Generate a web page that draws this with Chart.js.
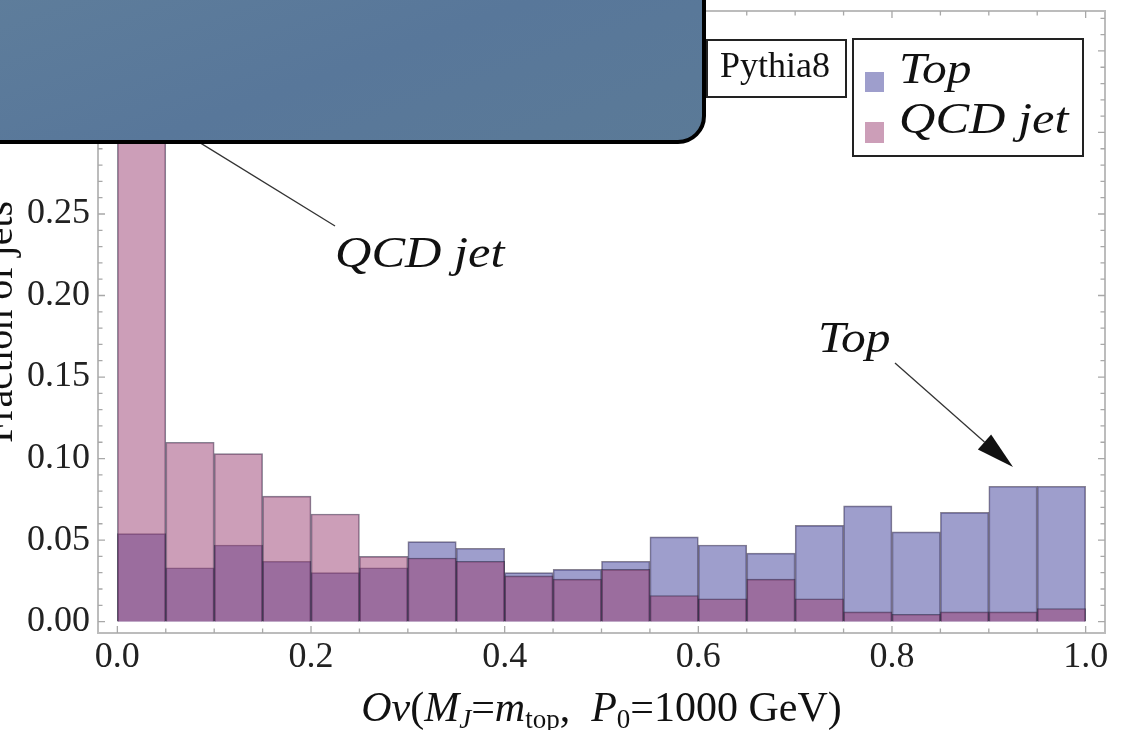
<!DOCTYPE html>
<html>
<head>
<meta charset="utf-8">
<script src="https://cdn.jsdelivr.net/npm/chart.js@4.4.0/dist/chart.umd.min.js"></script>
<style>
  html, body { margin: 0; padding: 0; background: #fff; overflow: hidden; }
  #wrap { position: relative; width: 1121px; height: 730px; }
  #cover {
    position: absolute; left: -10px; top: -10px; width: 716px; height: 154px;
    box-sizing: border-box; border: 4px solid #000; border-radius: 0 0 28px 0;
    background: linear-gradient(160deg, #5e7d9b 0%, #58779a 50%, #5b7a97 100%);
  }
</style>
</head>
<body>
<div id="wrap">
  <canvas id="myChart" width="1121" height="730"></canvas>
  <div id="cover"></div>
</div>
<script>
// histogram bins (left edges), width 0.05
const binStart = [0.00, 0.05, 0.10, 0.15, 0.20, 0.25, 0.30, 0.35, 0.40, 0.45,
                  0.50, 0.55, 0.60, 0.65, 0.70, 0.75, 0.80, 0.85, 0.90, 0.95];
const binWidth = 0.05;

// fraction of jets per bin
const topFrac = [0.054, 0.033, 0.047, 0.037, 0.030, 0.033, 0.049, 0.045, 0.030, 0.032,
                 0.037, 0.052, 0.047, 0.042, 0.059, 0.071, 0.055, 0.067, 0.083, 0.083];
const qcdFrac = [0.335, 0.110, 0.103, 0.077, 0.066, 0.040, 0.039, 0.037, 0.028, 0.026,
                 0.032, 0.016, 0.014, 0.026, 0.014, 0.006, 0.0045, 0.006, 0.006, 0.008];

const xTickVals = [0.0, 0.2, 0.4, 0.6, 0.8, 1.0];
const yTickVals = [0.00, 0.05, 0.10, 0.15, 0.20, 0.25, 0.30, 0.35];

const seriesNames = ['Top', 'QCD jet'];
const serif = "'Liberation Serif', 'DejaVu Serif', serif";

Chart.defaults.font.family = serif;
Chart.defaults.color = '#222';

// frame with inward ticks, like the original plot
const framePlugin = {
  id: 'frame',
  afterDatasetsDraw(chart) {
    const {ctx, chartArea: a, scales: {x, y}} = chart;
    ctx.save();
    ctx.strokeStyle = '#bcbcbc';
    ctx.lineWidth = 2;
    ctx.strokeRect(a.left, a.top, a.right - a.left, a.bottom - a.top);

    ctx.strokeStyle = '#a8a8a8';
    ctx.lineWidth = 1.3;
    ctx.beginPath();
    for (let k = 0; k <= 20; k++) {
      const px = x.getPixelForValue(k * 0.05);
      const len = k % 4 === 0 ? 7 : 4.5;
      ctx.moveTo(px, a.bottom); ctx.lineTo(px, a.bottom - len);
      ctx.moveTo(px, a.top); ctx.lineTo(px, a.top + len);
    }
    for (let k = 0; k <= 37; k++) {
      const py = y.getPixelForValue(k * 0.01);
      const len = k % 5 === 0 ? 7 : 4.5;
      ctx.moveTo(a.left, py); ctx.lineTo(a.left + len, py);
      ctx.moveTo(a.right, py); ctx.lineTo(a.right - len, py);
    }
    ctx.stroke();
    ctx.restore();
  }
};

function arrow(ctx, x0, y0, x1, y1, headLen, headHalf) {
  const ang = Math.atan2(y1 - y0, x1 - x0);
  const bx = x1 - headLen * Math.cos(ang), by = y1 - headLen * Math.sin(ang);
  ctx.beginPath();
  ctx.moveTo(x0, y0); ctx.lineTo(bx, by);
  ctx.stroke();
  ctx.beginPath();
  ctx.moveTo(x1, y1);
  ctx.lineTo(bx + headHalf * Math.sin(ang), by - headHalf * Math.cos(ang));
  ctx.lineTo(bx - headHalf * Math.sin(ang), by + headHalf * Math.cos(ang));
  ctx.closePath();
  ctx.fill();
}

// italic labels in the original are a bit wider than Liberation Serif
function wideText(ctx, txt, x, y, sx) {
  ctx.save();
  ctx.translate(x, y);
  ctx.scale(sx, 1);
  ctx.fillText(txt, 0, 0);
  ctx.restore();
}

const notesPlugin = {
  id: 'notes',
  afterDraw(chart) {
    const {ctx, chartArea: a, scales: {x, y}} = chart;
    ctx.save();
    ctx.fillStyle = '#111';
    ctx.strokeStyle = '#333';
    ctx.textBaseline = 'alphabetic';

    // annotations
    ctx.font = 'italic 45px ' + serif;
    wideText(ctx, 'QCD jet', x.getPixelForValue(0.2248), y.getPixelForValue(0.2175), 1.12);
    wideText(ctx, 'Top', x.getPixelForValue(0.7236), y.getPixelForValue(0.1654), 1.1);
    ctx.lineWidth = 1.3;
    arrow(ctx, x.getPixelForValue(0.2248), y.getPixelForValue(0.2426),
               x.getPixelForValue(0.0337), y.getPixelForValue(0.3126), 38, 10);
    arrow(ctx, x.getPixelForValue(0.8031), y.getPixelForValue(0.1586),
               x.getPixelForValue(0.925), y.getPixelForValue(0.0948), 38, 10);

    // Pythia8 box
    ctx.fillStyle = '#fff';
    ctx.strokeStyle = '#222';
    ctx.lineWidth = 2;
    ctx.fillRect(a.right - 398, a.top + 29, 139, 57);
    ctx.strokeRect(a.right - 398, a.top + 29, 139, 57);
    ctx.fillStyle = '#111';
    ctx.font = '36px ' + serif;
    ctx.fillText('Pythia8', a.right - 385, a.top + 66);

    // legend box
    const lx = a.right - 252, ly = a.top + 28;
    ctx.fillStyle = '#fff';
    ctx.fillRect(lx, ly, 230, 117);
    ctx.strokeRect(lx, ly, 230, 117);
    const cols = chart.data.datasets.map(d => d.backgroundColor);
    ctx.fillStyle = cols[0];
    ctx.fillRect(lx + 12, ly + 33, 19, 20);
    ctx.fillStyle = cols[1];
    ctx.fillRect(lx + 12, ly + 83, 19, 21);
    ctx.fillStyle = '#111';
    ctx.font = 'italic 45px ' + serif;
    wideText(ctx, seriesNames[0], lx + 46, ly + 44, 1.1);
    wideText(ctx, seriesNames[1], lx + 46, ly + 94, 1.12);

    // x axis title with sub-scripts
    const big = 42, small = 27;
    const parts = [
      ['Ov', 'italic', big, 0], ['(', '', big, 0], ['M', 'italic', big, 0],
      ['J', 'italic', small, 7], ['=', '', big, 0], ['m', 'italic', big, 0],
      ['top', '', small, 7], [',  ', '', big, 0], ['P', 'italic', big, 0],
      ['0', '', small, 7], ['=1000 GeV)', '', big, 0]
    ];
    let total = 0;
    parts.forEach(p => { ctx.font = `${p[1]} ${p[2]}px ${serif}`; total += ctx.measureText(p[0]).width; });
    let cx = (a.left + a.right) / 2 - total / 2;
    const base = 721;
    parts.forEach(p => {
      ctx.font = `${p[1]} ${p[2]}px ${serif}`;
      ctx.fillText(p[0], cx, base + p[3]);
      cx += ctx.measureText(p[0]).width;
    });

    // y axis title, mostly cut off at the left edge
    ctx.translate(12, (a.top + a.bottom) / 2);
    ctx.rotate(-Math.PI / 2);
    ctx.textAlign = 'center';
    ctx.font = '40px ' + serif;
    ctx.fillText('Fraction of jets', 0, 0);
    ctx.restore();
  }
};

const ctx = document.getElementById('myChart');

const myChart = new Chart(ctx, {
  type: 'bar',
  data: {
    datasets: [
      {
        label: seriesNames[0],
        data: binStart.map((b, i) => ({x: b + binWidth / 2, y: topFrac[i]})),
        backgroundColor: 'rgba(61,61,153,0.5)',
        borderColor: 'rgba(35,25,55,0.55)',
        borderWidth: 1,
        order: 2
      },
      {
        label: seriesNames[1],
        data: binStart.map((b, i) => ({x: b + binWidth / 2, y: qcdFrac[i]})),
        backgroundColor: 'rgba(153,61,113,0.5)',
        borderColor: 'rgba(35,25,55,0.55)',
        borderWidth: 1,
        order: 1
      }
    ]
  },
  options: {
    responsive: false,
    animation: false,
    layout: {padding: {top: 11, right: 16, left: 0, bottom: 0}},
    datasets: {bar: {grouped: false, barPercentage: 1, categoryPercentage: 1}},
    plugins: {legend: {display: false}, tooltip: {enabled: false}},
    scales: {
      x: {
        type: 'linear', min: -0.02, max: 1.02, offset: false,
        grid: {display: false, drawTicks: false, offset: false},
        border: {display: false},
        afterBuildTicks: s => { s.ticks = xTickVals.map(v => ({value: v})); },
        ticks: {padding: 3, font: {size: 36}, maxRotation: 0, autoSkip: false,
                callback: v => v.toFixed(1)},
        afterFit: s => { s.height = 97; s.paddingLeft = 0; s.paddingRight = 0; }
      },
      y: {
        min: -0.007, max: 0.3745,
        grid: {display: false, drawTicks: false},
        border: {display: false},
        afterBuildTicks: s => { s.ticks = yTickVals.map(v => ({value: v})); },
        ticks: {padding: 8, font: {size: 36}, autoSkip: false,
                callback: v => v.toFixed(2)},
        afterFit: s => { s.width = 98; s.paddingTop = 0; s.paddingBottom = 0; }
      }
    }
  },
  plugins: [framePlugin, notesPlugin]
});
</script>
</body>
</html>
